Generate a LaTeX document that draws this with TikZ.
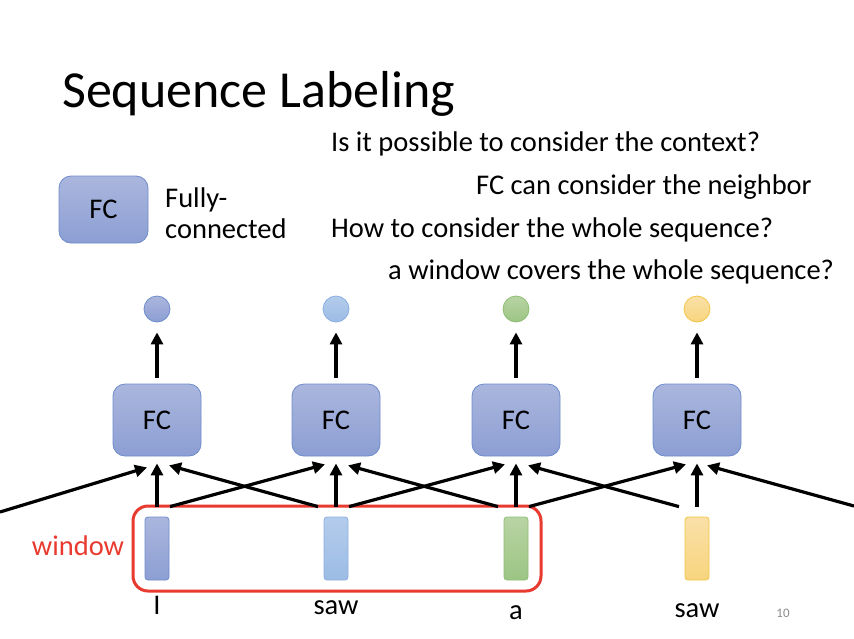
\documentclass[tikz,border=0pt]{standalone}
\usepackage{fontspec}
\setmainfont{Carlito}
\usetikzlibrary{arrows.meta}
\definecolor{fcTop}{HTML}{AAB6DD}
\definecolor{fcBot}{HTML}{8C9ED3}
\definecolor{fcLine}{HTML}{6E8CCB}
\definecolor{lbTop}{HTML}{B4CCEC}
\definecolor{lbBot}{HTML}{9CBCE4}
\definecolor{lbLine}{HTML}{8CB0E0}
\definecolor{grTop}{HTML}{B8D4A4}
\definecolor{grBot}{HTML}{9CC584}
\definecolor{grLine}{HTML}{8EBE74}
\definecolor{yeTop}{HTML}{FAE0A8}
\definecolor{yeBot}{HTML}{F7D57E}
\definecolor{yeLine}{HTML}{F2C548}
\definecolor{winRed}{HTML}{E83A2E}
\definecolor{numGray}{HTML}{8C8C8C}
\tikzset{
  fcbox/.style={rounded corners=12pt, draw=fcLine, line width=0.8pt, top color=fcTop, bottom color=fcBot,
    minimum width=88pt, minimum height=72pt, inner sep=0pt, font=\fontsize{28.5}{34}\selectfont},
  outdot/.style={circle, minimum size=26pt, inner sep=0pt, line width=0.8pt},
  invec/.style={rounded corners=3pt, minimum width=24pt, minimum height=63pt, inner sep=0pt, line width=0.8pt},
  cBlue/.style={draw=fcLine, top color=fcTop, bottom color=fcBot},
  cLBlue/.style={draw=lbLine, top color=lbTop, bottom color=lbBot},
  cGreen/.style={draw=grLine, top color=grTop, bottom color=grBot},
  cYellow/.style={draw=yeLine, top color=yeTop, bottom color=yeBot},
  conn/.style={-{Triangle[length=12pt,width=12pt]}, line width=3.2pt},
  body/.style={font=\fontsize{28.5}{34}\selectfont, inner sep=0pt, anchor=base west},
  word/.style={font=\fontsize{28.5}{34}\selectfont, inner sep=0pt, anchor=base},
}
\begin{document}
\begin{tikzpicture}[x=1pt,y=-1pt]
\useasboundingbox (0,0) rectangle (854,638);
% title and texts
\node[inner sep=0pt, anchor=base west, font=\fontsize{52}{60}\selectfont] (title) at (62,107) {Sequence Labeling};
\node[body] (t1) at (331,151) {Is it possible to consider the context?};
\node[body] (t2) at (476,194) {FC can consider the neighbor};
\node[body] (t3) at (331,237) {How to consider the whole sequence?};
\node[body] (t4) at (388,279) {a window covers the whole sequence?};
% legend
\node[fcbox, minimum width=89pt, minimum height=67pt] (leg) at (103.5,209.5) {FC};
\node[body] (leg1) at (165,207) {Fully-};
\node[body] (leg2) at (165,238) {connected};
% FC boxes
\node[fcbox] (fc1) at (157,420) {FC};
\node[fcbox] (fc2) at (336,420) {FC};
\node[fcbox] (fc3) at (516,420) {FC};
\node[fcbox] (fc4) at (697,420) {FC};
% outputs
\node[outdot, cBlue] (o1) at (157,309) {};
\node[outdot, cLBlue] (o2) at (336,309) {};
\node[outdot, cGreen] (o3) at (516,309) {};
\node[outdot, cYellow] (o4) at (697,309) {};
% inputs
\node[invec, cBlue] (in1) at (157,548.5) {};
\node[invec, cLBlue] (in2) at (336,548.5) {};
\node[invec, cGreen] (in3) at (516,548.5) {};
\node[invec, cYellow] (in4) at (697,548.5) {};
% words
\node[word] (w1) at (157,614) {I};
\node[word] (w2) at (336,614) {saw};
\node[word] (w3) at (516,619) {a};
\node[word] (w4) at (697,617) {saw};
\node[inner sep=0pt, anchor=base, font=\fontsize{13}{15}\selectfont, text=numGray] (pg) at (783,617) {10};
% window
\node[draw=winRed, line width=3pt, rounded corners=15pt, minimum width=408pt, minimum height=85pt, inner sep=0pt] (win) at (337,548.5) {};
\node[inner sep=0pt, anchor=base, text=winRed, font=\fontsize{28.5}{34}\selectfont] (wl) at (78,555) {window};
% output arrows
\foreach \i in {1,...,4}{
  \draw[conn] ([yshift=6pt]fc\i.north) -- ([yshift=-10pt]o\i.south);
  \draw[conn] ([yshift=10pt]in\i.north) -- ([yshift=-7pt]fc\i.south);
}
% diagonal arrows
\foreach \a/\b in {1/2,2/3,3/4}{
  \draw[conn] ([xshift=13pt,yshift=10pt]in\a.north) -- ([xshift=-11pt,yshift=-8pt]fc\b.south);
  \draw[conn] ([xshift=-18pt,yshift=10pt]in\b.north) -- ([xshift=12pt,yshift=-9pt]fc\a.south);
}
\coordinate (lft) at (0,512);
\coordinate (rgt) at (854,506);
\draw[conn] (lft) -- ([xshift=-10pt,yshift=-11pt]fc1.south);
\draw[conn] (rgt) -- ([xshift=10pt,yshift=-9pt]fc4.south);
\end{tikzpicture}
\end{document}
